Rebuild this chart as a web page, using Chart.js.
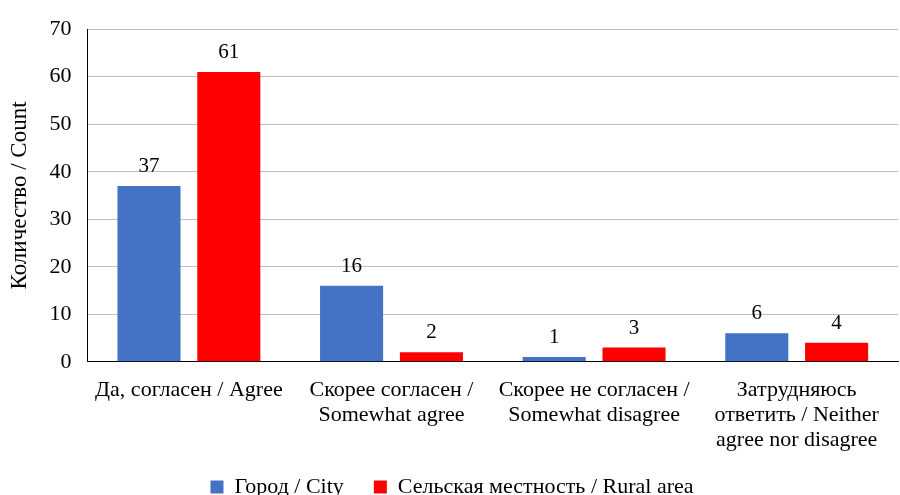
<!DOCTYPE html>
<html><head><meta charset="utf-8">
<script src="https://cdn.jsdelivr.net/npm/chart.js@4/dist/chart.umd.min.js"></script>
<style>html,body{margin:0;padding:0;background:#fff;}#c{display:block;}</style>
</head><body>
<canvas id="c" width="900" height="495"></canvas>
<script>
const categories = [
  ["Да, согласен / Agree"],
  ["Скорее согласен /", "Somewhat agree"],
  ["Скорее не согласен /", "Somewhat disagree"],
  ["Затрудняюсь", "ответить / Neither", "agree nor disagree"]
];
const cityValues = [37, 16, 1, 6];
const ruralValues = [61, 2, 3, 4];
const seriesNames = ["Город / City", "Сельская местность / Rural area"];
const yTicks = [0, 10, 20, 30, 40, 50, 60, 70];

const FONT = "'Liberation Serif', 'Times New Roman', serif";

const labelPlugin = {
  id: 'barLabels',
  afterDatasetsDraw(chart) {
    const ctx = chart.ctx;
    ctx.save();
    ctx.font = "21px " + FONT;
    ctx.fillStyle = "#000";
    ctx.textAlign = "center";
    ctx.textBaseline = "bottom";
    chart.data.datasets.forEach((ds, i) => {
      chart.getDatasetMeta(i).data.forEach((bar, j) => {
        ctx.fillText(String(ds.data[j]), bar.x, bar.y - 9);
      });
    });
    ctx.restore();
  }
};

// tighten the legend box: less empty space above its row
const legendFitPlugin = {
  id: 'legendFit',
  beforeLayout(chart) {
    const lg = chart.legend;
    if (lg && !lg._patched) {
      const origFit = lg.fit.bind(lg);
      lg.fit = function () { origFit(); this.height -= 36; };
      lg.draw = function () {
        if (!this.options.display) return;
        const ctx = this.ctx;
        ctx.save();
        ctx.translate(0, -23);
        this._draw();
        ctx.restore();
      };
      lg._patched = true;
    }
  }
};

new Chart(document.getElementById('c'), {
  type: 'bar',
  data: {
    labels: categories,
    datasets: [
      { label: seriesNames[0], data: cityValues, backgroundColor: '#4472C4' },
      { label: seriesNames[1], data: ruralValues, backgroundColor: '#FF0000' }
    ]
  },
  options: {
    responsive: false,
    animation: false,
    devicePixelRatio: 1,
    layout: { padding: { top: 4, right: 2, left: 6, bottom: 0 } },
    datasets: { bar: { categoryPercentage: 0.788, barPercentage: 0.79 } },
    plugins: {
      legend: {
        position: 'bottom',
        labels: {
          font: { family: FONT, size: 22 },
          color: '#000',
          boxWidth: 13, boxHeight: 13,
          padding: 30
        }
      },
      tooltip: { enabled: false }
    },
    scales: {
      x: {
        grid: { display: false, drawTicks: false },
        border: { color: '#000', width: 1 },
        ticks: {
          font: { family: FONT, size: 22, lineHeight: 1.14 },
          color: '#000', maxRotation: 0, autoSkip: false, padding: 16
        }
      },
      y: {
        min: 0, max: 70,
        afterBuildTicks(axis) { axis.ticks = yTicks.map(v => ({ value: v })); },
        grid: { color: '#c0c0c0', drawTicks: false },
        border: { color: '#000', width: 1 },
        ticks: { font: { family: FONT, size: 22 }, color: '#000', padding: 16 },
        title: {
          display: true, text: 'Количество / Count',
          font: { family: FONT, size: 23 }, color: '#000', padding: 0
        }
      }
    }
  },
  plugins: [labelPlugin, legendFitPlugin]
});
</script>
</body></html>
